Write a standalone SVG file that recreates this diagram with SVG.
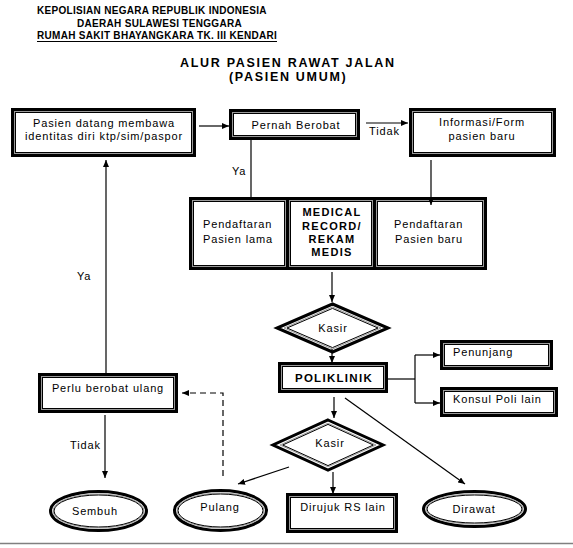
<svg xmlns="http://www.w3.org/2000/svg" width="573" height="548" viewBox="0 0 573 548">
<defs>
<style>
.o{fill:#fff;stroke:#000;stroke-width:3}
.m{fill:none;stroke:#9a9a9a;stroke-width:1}
.n{fill:none;stroke:#000;stroke-width:1}
.t{font-family:"Liberation Sans",Arial,sans-serif;font-size:11px;letter-spacing:0.85px;fill:#000}
.b{font-weight:bold;letter-spacing:1.3px}
.h{font-family:"Liberation Sans",Arial,sans-serif;font-size:10px;font-weight:bold;letter-spacing:0.3px;fill:#000}
.ti{font-family:"Liberation Sans",Arial,sans-serif;font-size:12.5px;font-weight:bold;letter-spacing:1.7px;fill:#000}
.c{text-anchor:middle}
.l{fill:none;stroke:#000;stroke-width:1.2}
.d{stroke-dasharray:6,4}
</style>
<marker id="ah" markerWidth="7" markerHeight="6" refX="7" refY="3" orient="auto" markerUnits="userSpaceOnUse"><path d="M0,0 L7,3 L0,6 z" fill="#000"/></marker>
</defs>
<rect width="573" height="548" fill="#fff"/>

<g id="header">
<text class="h" x="37" y="14">KEPOLISIAN NEGARA REPUBLIK INDONESIA</text>
<text class="h" x="77" y="27">DAERAH SULAWESI TENGGARA</text>
<text class="h" x="37" y="39">RUMAH SAKIT BHAYANGKARA  TK. III KENDARI</text>
<line x1="37" y1="41.5" x2="277" y2="41.5" stroke="#000" stroke-width="1"/>
<text class="ti" x="180" y="67">ALUR PASIEN RAWAT JALAN</text>
<text class="ti" x="229" y="81">(PASIEN UMUM)</text>
</g>

<g id="pasien-datang">
<rect class="o" x="12.5" y="109.5" width="182" height="46"/>
<rect class="m" x="14.5" y="111.5" width="178" height="42"/>
<rect class="n" x="15.5" y="112.5" width="176" height="40"/>
<text class="t c" x="104" y="127">Pasien datang membawa</text>
<text class="t c" x="104" y="140">identitas diri ktp/sim/paspor</text>
</g>

<g id="pernah-berobat">
<rect class="o" x="230.5" y="110.5" width="128" height="28"/>
<rect class="m" x="232.5" y="112.5" width="124" height="24"/>
<rect class="n" x="233.5" y="113.5" width="122" height="22"/>
<text class="t c" x="296" y="129">Pernah Berobat</text>
</g>

<g id="informasi-form">
<rect class="o" x="410.5" y="109.5" width="144" height="46"/>
<rect class="m" x="412.5" y="111.5" width="140" height="42"/>
<rect class="n" x="413.5" y="112.5" width="138" height="40"/>
<text class="t c" x="482" y="126">Informasi/Form</text>
<text class="t c" x="482" y="140">pasien baru</text>
</g>

<g id="pendaftaran-lama">
<rect class="o" x="190.5" y="198.5" width="97" height="70"/>
<rect class="m" x="192.5" y="200.5" width="93" height="66"/>
<rect class="n" x="193.5" y="201.5" width="91" height="64"/>
<text class="t" x="203" y="228">Pendaftaran</text>
<text class="t" x="203" y="243">Pasien lama</text>
</g>

<g id="medical-record">
<rect class="o" x="287.5" y="198.5" width="87" height="70"/>
<rect class="m" x="289.5" y="200.5" width="83" height="66"/>
<rect class="n" x="290.5" y="201.5" width="81" height="64"/>
<text class="t b c" x="332" y="216">MEDICAL</text>
<text class="t b c" x="332" y="229.5">RECORD/</text>
<text class="t b c" x="332" y="243">REKAM</text>
<text class="t b c" x="332" y="256">MEDIS</text>
</g>

<g id="pendaftaran-baru">
<rect class="o" x="374.5" y="198.5" width="111" height="70"/>
<rect class="m" x="376.5" y="200.5" width="107" height="66"/>
<rect class="n" x="377.5" y="201.5" width="105" height="64"/>
<text class="t" x="394" y="228">Pendaftaran</text>
<text class="t" x="395" y="243">Pasien baru</text>
</g>

<g id="kasir-1">
<polygon class="o" points="332.5,304 388,328 332.5,352 277,328"/>
<polygon class="m" points="332.5,307 381,328 332.5,349 284,328"/>
<polygon class="n" points="332.5,308.4 378,328 332.5,347.6 287,328"/>
<text class="t c" x="333" y="332">Kasir</text>
</g>

<g id="poliklinik">
<rect class="o" x="279.5" y="363.5" width="107" height="28"/>
<rect class="m" x="281.5" y="365.5" width="103" height="24"/>
<rect class="n" x="282.5" y="366.5" width="101" height="22"/>
<text class="t b c" x="334" y="382" style="font-size:11.5px">POLIKLINIK</text>
</g>

<g id="penunjang">
<rect class="o" x="441.5" y="341.5" width="110" height="27"/>
<rect class="m" x="443.5" y="343.5" width="106" height="23"/>
<rect class="n" x="444.5" y="344.5" width="104" height="21"/>
<text class="t" x="453" y="356">Penunjang</text>
</g>

<g id="konsul-poli">
<rect class="o" x="441.5" y="388.5" width="115" height="27"/>
<rect class="m" x="443.5" y="390.5" width="111" height="23"/>
<rect class="n" x="444.5" y="391.5" width="109" height="21"/>
<text class="t" x="453" y="403">Konsul Poli lain</text>
</g>

<g id="kasir-2">
<polygon class="o" points="328,420 383,445 328,470 273,445"/>
<polygon class="m" points="328,423.2 376,445 328,466.8 280,445"/>
<polygon class="n" points="328,424.4 373.3,445 328,465.6 282.7,445"/>
<text class="t c" x="330" y="447">Kasir</text>
</g>

<g id="perlu-berobat">
<rect class="o" x="39.5" y="374.5" width="137" height="37"/>
<rect class="m" x="41.5" y="376.5" width="133" height="33"/>
<rect class="n" x="42.5" y="377.5" width="131" height="31"/>
<text class="t c" x="108" y="391.5">Perlu berobat ulang</text>
</g>

<g id="dirujuk">
<rect class="o" x="287.5" y="494.5" width="109" height="37"/>
<rect class="m" x="289.5" y="496.5" width="105" height="33"/>
<rect class="n" x="290.5" y="497.5" width="103" height="31"/>
<text class="t c" x="343" y="511">Dirujuk RS lain</text>
</g>

<g id="sembuh">
<ellipse class="o" cx="98.5" cy="511" rx="48" ry="19.5"/>
<ellipse class="m" cx="98.5" cy="511" rx="45.5" ry="17"/>
<ellipse class="n" cx="98.5" cy="511" rx="44.5" ry="16"/>
<text class="t c" x="95" y="515">Sembuh</text>
</g>

<g id="pulang">
<ellipse class="o" cx="220.5" cy="510.5" rx="46" ry="20"/>
<ellipse class="m" cx="220.5" cy="510.5" rx="43.5" ry="17.5"/>
<ellipse class="n" cx="220.5" cy="510.5" rx="42.5" ry="16.5"/>
<text class="t c" x="220" y="511">Pulang</text>
</g>

<g id="dirawat">
<ellipse class="o" cx="474.5" cy="509" rx="51" ry="17.5"/>
<ellipse class="m" cx="474.5" cy="509" rx="48.5" ry="15"/>
<ellipse class="n" cx="474.5" cy="509" rx="47.5" ry="14"/>
<text class="t c" x="474" y="513">Dirawat</text>
</g>

<g id="connectors">
<line class="l" x1="199" y1="126" x2="229" y2="126" marker-end="url(#ah)"/>
<line class="l" x1="366" y1="123" x2="408" y2="123" marker-end="url(#ah)"/>
<line class="l" x1="251" y1="140" x2="251" y2="197"/>
<line class="l" x1="431" y1="160" x2="431" y2="205" marker-end="url(#ah)"/>
<line class="l" x1="332" y1="272" x2="332" y2="302" marker-end="url(#ah)"/>
<line class="l" x1="332" y1="349" x2="332" y2="363" marker-end="url(#ah)"/>
<polyline class="l" points="388,379 415,379"/>
<line class="l" x1="415" y1="355" x2="415" y2="403"/>
<line class="l" x1="415" y1="355" x2="440" y2="355" marker-end="url(#ah)"/>
<line class="l" x1="415" y1="403" x2="440" y2="403" marker-end="url(#ah)"/>
<line class="l" x1="334" y1="397" x2="334" y2="418" marker-end="url(#ah)"/>
<line class="l" x1="345" y1="398" x2="465" y2="484" marker-end="url(#ah)"/>
<line class="l" x1="333" y1="472" x2="333" y2="494" marker-end="url(#ah)"/>
<line class="l" x1="289" y1="467" x2="238" y2="484" marker-end="url(#ah)"/>
<polyline class="l d" points="223,476 223,393 182,393" marker-end="url(#ah)"/>
<line class="l" x1="105" y1="415" x2="105" y2="478" marker-end="url(#ah)"/>
<line class="l" x1="106" y1="373" x2="106" y2="160" marker-end="url(#ah)"/>
<text class="t" x="369" y="134.5">Tidak</text>
<text class="t" x="232" y="175">Ya</text>
<text class="t" x="77" y="280">Ya</text>
<text class="t" x="70" y="449">Tidak</text>
</g>

<line x1="0" y1="543.5" x2="573" y2="543.5" stroke="#808080" stroke-width="1.5"/>
</svg>
